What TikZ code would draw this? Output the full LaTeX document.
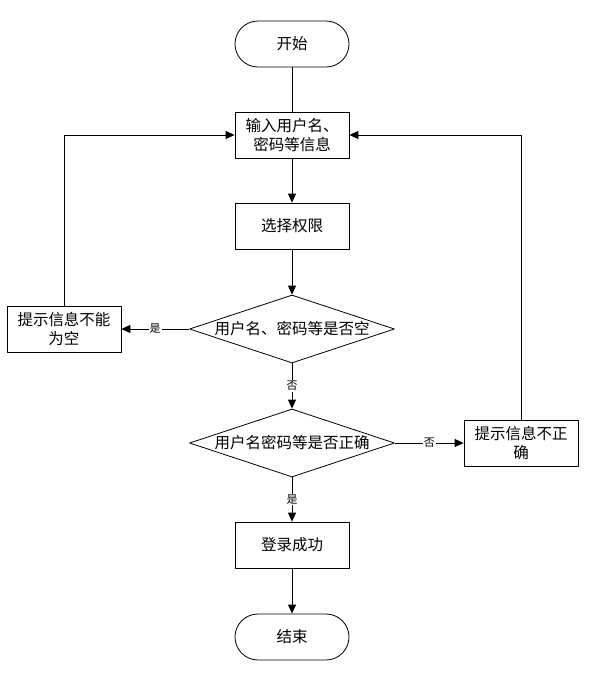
\documentclass[tikz,border=0pt]{standalone}
\usepackage{fontspec}
\newfontfamily\cjk{Noto Sans CJK SC}
\usetikzlibrary{arrows.meta,shapes.geometric}

\begin{document}
\begin{tikzpicture}[x=1pt, y=-1pt, line width=0.8pt, line join=round,
  box/.style={draw, rectangle, minimum width=114pt, minimum height=46pt,
    inner sep=2pt, align=center, font=\cjk\fontsize{15.5}{19}\selectfont},
  term/.style={box, rounded corners=23pt},
  cond/.style={draw, diamond, aspect=3.2, inner sep=0pt, minimum width=205pt,
    minimum height=68pt, font=\cjk\fontsize{15.5}{18}\selectfont},
  lab/.style={fill=white, inner sep=1pt, font=\cjk\fontsize{11}{13}\selectfont}]
  \def\arr{-{Triangle[width=8pt,length=9pt]}}

  % ════ 主干节点 ════
  \node[term] (start) at (292,44)  {开始};
  \node[box]  (input) at (292,135) {输入用户名、\\密码等信息};
  \node[box]  (role)  at (292,226) {选择权限};
  \node[cond] (empty) at (292,329) {用户名、密码等是否空};
  \node[cond] (check) at (292,443) {用户名密码等是否正确};
  \node[box]  (ok)    at (292,545) {登录成功};
  \node[term] (stop)  at (292,637) {结束};

  % ════ 两侧提示框 ════
  \node[box] (warnE) at (64,329)  {提示信息不能\\为空};
  \node[box] (warnW) at (521,443) {提示信息不正\\确};

  % ════ 连线 ════
  \draw (start) -- (input);
  \draw[\arr] (input) -- (role);
  \draw[\arr] (role) -- (empty);
  \draw[\arr] (empty) -- node[lab] {否} (check);
  \draw[\arr] (check) -- node[lab] {是} (ok);
  \draw[\arr] (ok) -- (stop);
  \draw[\arr] (empty) -- node[lab] {是} (warnE);
  \draw[\arr] (check) -- node[lab] {否} (warnW);

  % ════ 回到输入框的两条回路 ════
  \draw[\arr] (warnE.north) |- (input.west);
  \draw[\arr] (warnW.north) |- (input.east);

  % 钉死画布
  \path[use as bounding box] (0,0) rectangle (591,673);
\end{tikzpicture}
\end{document}
